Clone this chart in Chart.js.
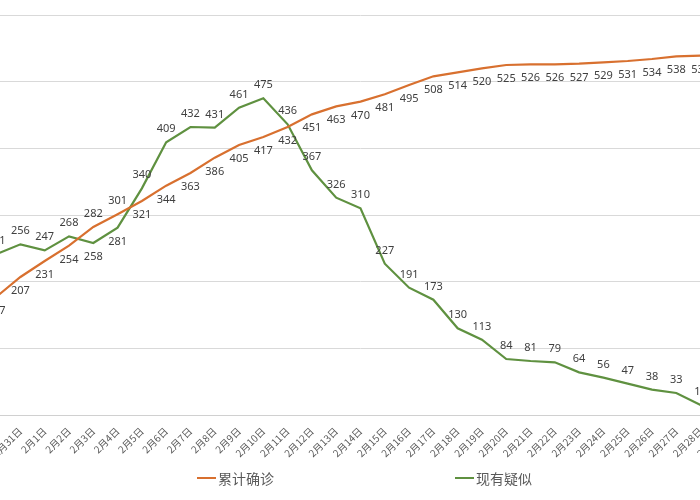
<!DOCTYPE html>
<html>
<head>
<meta charset="utf-8">
<script src="https://cdn.jsdelivr.net/npm/chart.js@4.4.1/dist/chart.umd.min.js"></script>
<style>
  html, body { margin: 0; padding: 0; width: 700px; height: 500px; overflow: hidden; background: #fff; }
  #wrap { position: absolute; left: -60px; top: 0; width: 860px; height: 500px; }
  #legend { position: absolute; top: 466px; left: 0; width: 700px; height: 24px;
            font-family: "Noto Sans CJK SC", sans-serif; font-size: 14px; color: #595959; }
  .item { position: absolute; top: 0; display: flex; align-items: center; height: 24px; }
  .item i { display: inline-block; width: 19px; height: 2px; margin-right: 2px; }
</style>
</head>
<body>
<div id="wrap"><canvas id="chart"></canvas></div>
<div id="legend">
  <div class="item" style="left:197px"><i style="background:#d8702f"></i>累计确诊</div>
  <div class="item" style="left:455px"><i style="background:#5f9140"></i>现有疑似</div>
</div>
<script>
// 日期
var days = ['1月30日', '1月31日', '2月1日', '2月2日', '2月3日', '2月4日', '2月5日', '2月6日',
    '2月7日', '2月8日', '2月9日', '2月10日', '2月11日', '2月12日', '2月13日', '2月14日',
    '2月15日', '2月16日', '2月17日', '2月18日', '2月19日', '2月20日', '2月21日', '2月22日',
    '2月23日', '2月24日', '2月25日', '2月26日', '2月27日', '2月28日', '2月29日'];

// 累计确诊
var confirmed = [177, 207, 231, 254, 282, 301, 321, 344, 363, 386, 405, 417, 432, 451, 463,
    470, 481, 495, 508, 514, 520, 525, 526, 526, 527, 529, 531, 534, 538, 539, null];

// 现有疑似
var suspected = [241, 256, 247, 268, 258, 281, 340, 409, 432, 431, 461, 475, 436, 367, 326,
    310, 227, 191, 173, 130, 113, 84, 81, 79, 64, 56, 47, 38, 33, 15, null];

var yTicks = [0, 100, 200, 300, 400, 500, 600];

// 数据标签 (累计确诊在下, 现有疑似在上, 个别点翻转)
var flipped = { 0: [4, 5], 1: [4, 5] };
var valueLabels = {
    id: 'valueLabels',
    afterDatasetsDraw: function (chart) {
        var ctx = chart.ctx;
        ctx.save();
        ctx.font = '11px "Noto Sans", sans-serif';
        ctx.fillStyle = '#404040';
        ctx.textAlign = 'center';
        ctx.textBaseline = 'middle';
        chart.data.datasets.forEach(function (ds, di) {
            var meta = chart.getDatasetMeta(di);
            meta.data.forEach(function (pt, i) {
                var v = ds.data[i];
                if (v === null) return;
                var below = di === 0;
                if (flipped[di].indexOf(i) >= 0) below = !below;
                ctx.fillText(String(v), pt.x, pt.y + (below ? 14 : -13));
            });
        });
        ctx.restore();
    }
};

var chart = new Chart(document.getElementById('chart'), {
    type: 'line',
    data: {
        labels: days,
        datasets: [
            {
                label: '累计确诊',
                data: confirmed,
                borderColor: '#d8702f',
                borderWidth: 2.2,
                pointRadius: 0,
                tension: 0
            },
            {
                label: '现有疑似',
                data: suspected,
                borderColor: '#5f9140',
                borderWidth: 2.2,
                pointRadius: 0,
                tension: 0
            }
        ]
    },
    options: {
        responsive: true,
        maintainAspectRatio: false,
        animation: false,
        events: [],
        layout: { padding: { left: 44, right: 63, top: 15, bottom: 0 } },
        plugins: {
            legend: { display: false },
            tooltip: { enabled: false }
        },
        scales: {
            x: {
                offset: true,
                grid: { display: false },
                border: { color: '#d0d0d0' },
                ticks: {
                    autoSkip: false,
                    maxRotation: 45,
                    minRotation: 45,
                    padding: 2,
                    color: '#595959',
                    font: { family: '"Noto Sans CJK SC", sans-serif', size: 10 }
                },
                afterFit: function (scale) { scale.height = 85; }
            },
            y: {
                min: 0,
                max: 600,
                afterBuildTicks: function (scale) {
                    scale.ticks = yTicks.map(function (v) { return { value: v }; });
                },
                grid: { color: '#d9d9d9', drawTicks: false },
                border: { display: false },
                ticks: { display: false },
                afterFit: function (scale) { scale.width = 0; }
            }
        }
    },
    plugins: [valueLabels]
});
</script>
</body>
</html>
